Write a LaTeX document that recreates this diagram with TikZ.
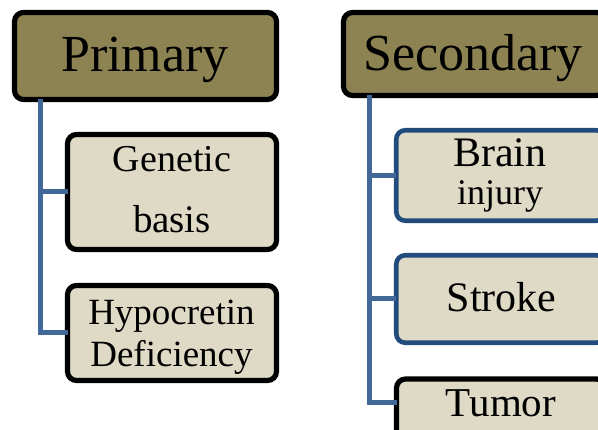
\documentclass[tikz,border=0pt]{standalone}
\usepackage{fontspec}
\setmainfont{Liberation Serif}
\definecolor{olivefill}{RGB}{141,131,82}
\definecolor{childfill}{RGB}{222,218,198}
\definecolor{connblue}{RGB}{66,104,154}
\definecolor{darkblue}{RGB}{33,74,125}
\tikzset{
  headbox/.style={draw=black, line width=5.2pt, fill=olivefill, rounded corners=9pt, inner sep=0pt, outer sep=0pt},
  childbox/.style={draw=black, line width=5.2pt, fill=childfill, rounded corners=9pt, inner sep=0pt, outer sep=0pt},
  bluebox/.style={childbox, draw=darkblue, line width=4.6pt},
  conn/.style={draw=connblue, line width=5pt},
  txt/.style={anchor=base, inner sep=0pt, outer sep=0pt, text=black}
}
\begin{document}
\begin{tikzpicture}[x=1pt, y=-1pt]
\useasboundingbox (0,0) rectangle (598,430);
\clip (0,0) rectangle (598,430);
% boxes
\node[headbox, minimum width=262pt, minimum height=87pt] (primary) at (145.5,56) {};
\node[childbox, minimum width=209pt, minimum height=115pt] (genetic) at (172,192) {};
\node[childbox, minimum width=209pt, minimum height=95pt] (hypo) at (172,333) {};
\node[headbox, minimum width=262pt, minimum height=83pt] (secondary) at (474.5,54) {};
\node[bluebox, minimum width=209pt, minimum height=90.5pt] (brain) at (500.75,175.5) {};
\node[bluebox, minimum width=209pt, minimum height=87.5pt] (stroke) at (500.75,299) {};
\node[childbox, minimum width=209pt, minimum height=62pt] (tumor) at (501,410) {};
% connectors
\coordinate (pv) at (40.5,0);
\coordinate (sv) at (369,0);
\draw[conn] (pv |- primary.south) |- (genetic.west);
\draw[conn] (pv |- primary.south) |- (hypo.west);
\draw[conn] (sv |- secondary.south) |- (brain.west);
\draw[conn] (sv |- secondary.south) |- (stroke.west);
\draw[conn] (sv |- secondary.south) |- ([yshift=7pt]tumor.west);
% texts
\node[txt, font=\fontsize{52}{52}\selectfont] (tprimary) at (145,72) {Primary};
\node[txt, font=\fontsize{52}{52}\selectfont] (tsecondary) at (473,71) {Secondary};
\node[txt, font=\fontsize{38}{38}\selectfont] (tgenetic) at (172,172) {Genetic};
\node[txt, font=\fontsize{39}{39}\selectfont] (tbasis) at (172,233) {basis};
\node[txt, font=\fontsize{37}{37}\selectfont] (thypo) at (171.5,325) {Hypocretin};
\node[txt, font=\fontsize{37}{37}\selectfont] (tdef) at (171.5,367) {Deficiency};
\node[txt, font=\fontsize{42}{42}\selectfont] (tbrain) at (500,167) {Brain};
\node[txt, font=\fontsize{36}{36}\selectfont] (tinjury) at (500,205) {injury};
\node[txt, font=\fontsize{42}{42}\selectfont] (tstroke) at (501.5,312) {Stroke};
\node[txt, font=\fontsize{41}{41}\selectfont] (ttumor) at (501,417) {Tumor};
\end{tikzpicture}
\end{document}
